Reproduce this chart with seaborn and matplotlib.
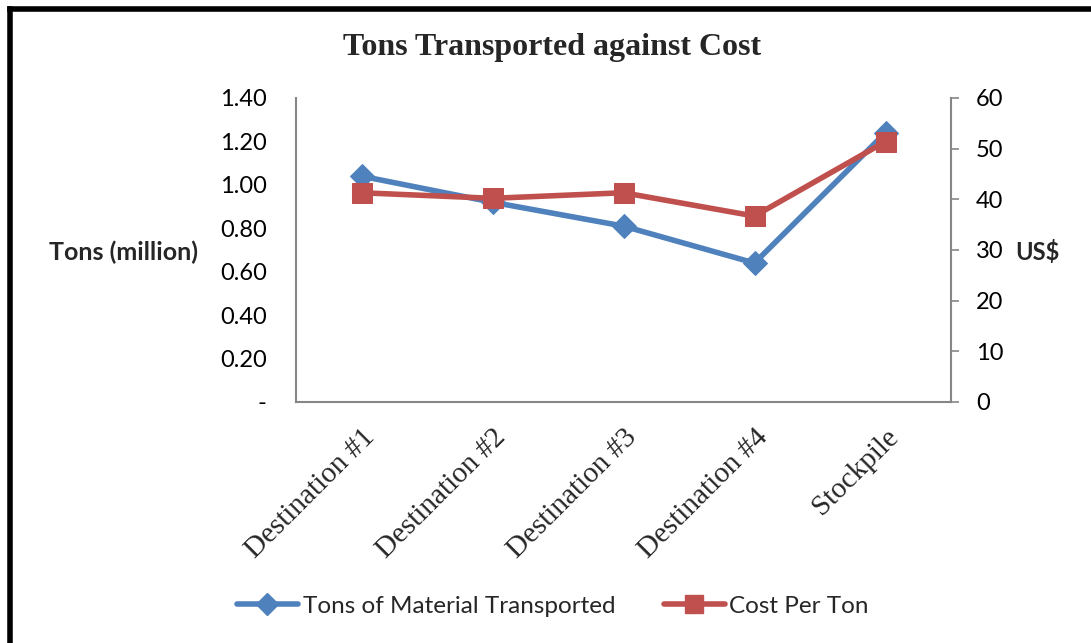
import matplotlib
matplotlib.use("Agg")
import matplotlib.pyplot as plt
from matplotlib.lines import Line2D
import matplotlib.transforms as mtransforms
import seaborn as sns
import pandas as pd

categories = ["Destination #1", "Destination #2", "Destination #3", "Destination #4", "Stockpile"]
tons_million = [1.04, 0.92, 0.81, 0.64, 1.24]
cost_per_ton = [41.3, 40.2, 41.3, 36.7, 51.4]
left_ticks = [0.0, 0.2, 0.4, 0.6, 0.8, 1.0, 1.2, 1.4]
left_tick_labels = ["-", "0.20", "0.40", "0.60", "0.80", "1.00", "1.20", "1.40"]
right_ticks = [0, 10, 20, 30, 40, 50, 60]

sns.set_theme(style="white")
plt.rcParams["font.family"] = ["Lato", "DejaVu Sans"]

BLUE = "#4F81BD"
RED = "#C0504D"
GREY = "#868686"

fig = plt.figure(figsize=(10.91, 6.43), dpi=100)
ax = fig.add_axes([296/1091, 1-402/643, (951-296)/1091, (402-98)/643])
ax2 = ax.twinx()

df = pd.DataFrame({"cat": categories, "tons": tons_million, "cost": cost_per_ton})

sns.lineplot(data=df, x="cat", y="tons", ax=ax, color=BLUE, lw=4, marker="D",
             markersize=12, markeredgecolor=BLUE, sort=False, zorder=2)
sns.lineplot(data=df, x="cat", y="cost", ax=ax2, color=RED, lw=4, marker="s",
             markersize=15, markeredgecolor=RED, sort=False, zorder=3)

ax.set_xlim(-0.5, 4.5)
ax.set_ylim(0, 1.4)
ax2.set_ylim(0, 60)

ax.set_yticks(left_ticks)
ax.set_yticklabels(left_tick_labels, fontsize=17, color="black")
ax2.set_yticks(right_ticks)
ax2.set_yticklabels([str(t) for t in right_ticks], fontsize=17, color="black")

ax.set_xticks(range(len(categories)))
ax.set_xticklabels(categories, rotation=45, ha="right", va="top",
                   rotation_mode="anchor", family="Liberation Serif", fontsize=21)
offset = mtransforms.ScaledTranslation(-9/100, 0, fig.dpi_scale_trans)
for lbl in ax.get_xticklabels():
    lbl.set_transform(lbl.get_transform() + offset)
ax.tick_params(axis="x", length=0, pad=16)
ax.tick_params(axis="y", length=0, pad=21)
ax2.tick_params(axis="y", length=6, width=1.2, color=GREY, direction="out", pad=12, right=True)

for a in (ax, ax2):
    a.spines["top"].set_visible(False)
    for s in ("left", "right", "bottom"):
        a.spines[s].set_color(GREY)
        a.spines[s].set_linewidth(1.5)
ax.spines["right"].set_visible(False)
ax2.spines["left"].set_visible(False)
ax2.spines["bottom"].set_visible(False)

ax.set_xlabel("")
ax.set_ylabel("Tons (million)", rotation=0, fontsize=18, fontweight="bold",
              ha="right", va="center")
ax.yaxis.set_label_coords(-0.150, 0.494)
ax2.set_ylabel("US$", rotation=0, fontsize=17, fontweight="bold",
               ha="left", va="center")
ax2.yaxis.set_label_coords(1.098, 0.494)

fig.text(552/1091, 1-47/643, "Tons Transported against Cost", ha="center", va="center",
         family="Liberation Serif", fontweight="bold", fontsize=23)

handles = [Line2D([], [], color=BLUE, lw=4, marker="D", markersize=11),
           Line2D([], [], color=RED, lw=4, marker="s", markersize=13)]
fig.legend(handles, ["Tons of Material Transported", "Cost Per Ton"],
           loc="center", bbox_to_anchor=(553/1091, 1-606/643), ncol=2, frameon=False,
           fontsize=17.5, handlelength=2.5, handletextpad=0.2, columnspacing=2.0)

# figure frame (left and top edges as in the reference)
fig.add_artist(Line2D([10/1091, 10/1091], [0, 1-9/643], transform=fig.transFigure,
                      color="black", lw=4, solid_capstyle="projecting"))
fig.add_artist(Line2D([10/1091, 1], [1-9/643, 1-9/643], transform=fig.transFigure,
                      color="black", lw=4, solid_capstyle="projecting"))

fig.savefig("out.png", dpi=100, facecolor="white")
